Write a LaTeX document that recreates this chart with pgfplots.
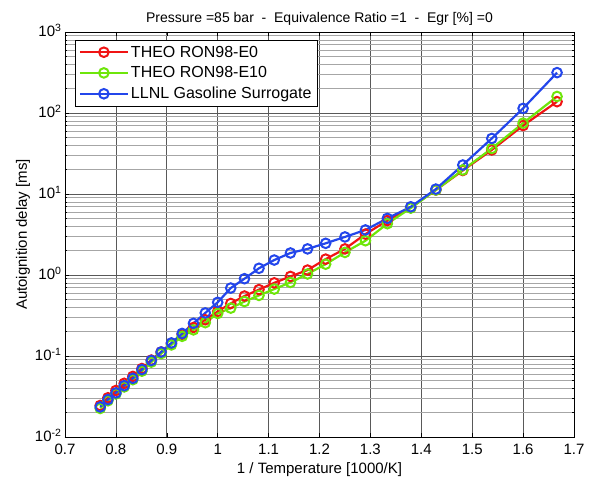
\documentclass[border=0pt]{standalone}
\usepackage{pgfplots}
\pgfplotsset{compat=1.18}
\usepackage{pgfplotstable}
\usepackage{fontspec}
\setmainfont{Liberation Sans}
\definecolor{cred}{RGB}{240,20,20}
\definecolor{cgreen}{RGB}{110,230,10}
\definecolor{cblue}{RGB}{35,70,235}
\pgfplotstableread{
x red green blue
0.7692 0.0245 0.0225 0.0235
0.7843 0.0305 0.0280 0.0290
0.8000 0.0375 0.0340 0.0350
0.8163 0.0460 0.0415 0.0430
0.8333 0.0560 0.0510 0.0530
0.8511 0.0700 0.0650 0.0680
0.8696 0.0890 0.0840 0.0880
0.8889 0.1120 0.1070 0.1120
0.9091 0.1430 0.1370 0.1450
0.9302 0.1850 0.1750 0.1900
0.9524 0.2250 0.2100 0.2530
0.9756 0.2800 0.2580 0.3400
1.0000 0.3550 0.3350 0.4600
1.0256 0.4450 0.3900 0.6900
1.0526 0.5500 0.4700 0.9000
1.0811 0.6600 0.5600 1.2100
1.1111 0.8000 0.6700 1.5300
1.1429 0.9600 0.8100 1.8700
1.1765 1.1500 1.0300 2.1000
1.2121 1.5700 1.3600 2.4600
1.2500 2.1000 1.9000 2.9500
1.2903 3.2000 2.6500 3.6000
1.3333 4.7000 4.3000 5.0000
1.3793 6.8000 6.7000 6.9500
1.4286 11.200 11.200 11.500
1.4815 19.500 19.800 22.800
1.5385 35.000 36.500 48.500
1.6000 70.000 75.000 114.00
1.6667 138.00 160.00 315.00
}\data
\begin{document}
\begin{tikzpicture}
\begin{axis}[name=ax, scale only axis, width=509pt, height=405pt,
  xmin=0.7, xmax=1.7, ymode=log, ymin=1e-2, ymax=1e3,
  xtick={0.7,0.8,0.9,1,1.1,1.2,1.3,1.4,1.5,1.6,1.7},
  xticklabels={0.7,0.8,0.9,1,1.1,1.2,1.3,1.4,1.5,1.6,1.7},
  ytick={1e-2,1e-1,1,1e1,1e2,1e3},
  yticklabels={10\textsuperscript{-2},10\textsuperscript{-1},10\textsuperscript{0},10\textsuperscript{1},10\textsuperscript{2},10\textsuperscript{3}},
  grid=both,
  major grid style={black!65, line width=0.6pt},
  minor grid style={black!35, line width=0.5pt},
  tick align=inside, major tick length=4pt, minor tick length=2.5pt,
  tick style={black, line width=0.5pt},
  axis line style={black, line width=0.8pt},
  tick label style={font=\fontsize{15}{17}\selectfont},
  xticklabel style={yshift=-3.5pt},
  yticklabel style={yshift=1.5pt},
  label style={font=\fontsize{15}{17}\selectfont},
  xlabel={1 / Temperature [1000/K]},
  xlabel style={yshift=-1pt},
  ylabel={Autoignition delay [ms]},
  ylabel style={yshift=-2pt},
  title={Pressure =85 bar \ - \ Equivalence Ratio =1 \ - \ Egr [\%] =0},
  title style={font=\fontsize{14}{16}\selectfont, yshift=-3pt},
  legend style={at={(axis description cs:0.0196,0.98)}, anchor=north west,
    draw=black, line width=0.6pt, font=\fontsize{16}{18}\selectfont,
    row sep=4pt, inner sep=3.5pt},
  legend cell align=left,
  legend image code/.code={\draw[mark repeat=2,mark phase=2] plot coordinates {(0pt,0pt) (24pt,0pt) (48pt,0pt)};},
  every axis plot/.append style={line width=2.2pt, mark=o, mark size=4.8pt, mark options={solid, line width=2pt}},
]
\addplot[cred] table[x=x, y=red] {\data};
\addlegendentry{THEO RON98-E0}
\addplot[cgreen] table[x=x, y=green] {\data};
\addlegendentry{THEO RON98-E10}
\addplot[cblue] table[x=x, y=blue] {\data};
\addlegendentry{LLNL Gasoline Surrogate}
\end{axis}
\path (ax.south west) ++(-65pt,-44pt) coordinate (bl);
\path (ax.north east) ++(24pt,32pt) coordinate (tr);
\path (bl) rectangle (tr);
\end{tikzpicture}
\end{document}
